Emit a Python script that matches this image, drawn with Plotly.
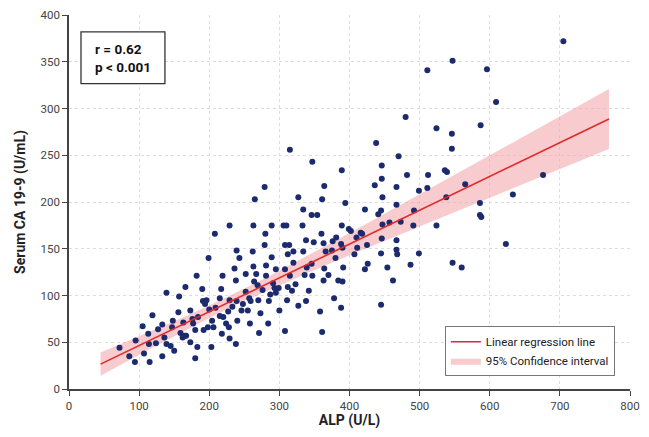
import plotly.graph_objects as go

# ALP (U/L) and Serum CA 19-9 (U/mL) values
alp = [
    72, 86, 94, 95, 105, 107, 113, 115, 119, 114, 124, 127, 133, 133, 136, 139, 139, 145, 148, 150,
    147, 156, 157, 159, 162, 165, 163, 166, 167, 173, 173, 176, 177, 180, 182, 180, 183, 184, 190, 191,
    194, 196, 199, 198, 192, 200, 203, 204, 208, 206, 209, 215, 215, 218, 219, 217, 220, 224, 227, 229,
    229, 228, 229, 233, 236, 238, 238, 239, 240, 239, 243, 246, 248, 252, 252, 255, 257, 258, 259, 263,
    262, 263, 264, 267, 269, 270, 271, 273, 276, 279, 280, 281, 281, 284, 285, 287, 289, 289, 291, 293,
    295, 295, 299, 300, 306, 310, 308, 308, 308, 312, 312, 314, 311, 315, 318, 320, 320, 323, 327, 333,
    334, 336, 338, 338, 342, 346, 346, 347, 358, 361, 360, 363, 363, 364, 366, 370,
    315, 347, 279, 265, 327, 334, 361, 364, 354,
    705, 547, 511, 596, 609, 480, 524, 546, 587, 546, 438, 470, 446, 389, 394, 422, 436, 446, 467, 482,
    512, 511, 499, 536, 539, 565, 538, 447, 467, 441, 445, 492, 586, 586, 588, 633, 676,
    623, 547, 560, 524, 491, 473, 457, 447, 446, 467, 445, 468, 499, 487, 454, 462, 426, 422, 425, 411,
    407, 416, 418, 410, 399, 402, 389, 388, 390, 380, 391, 384, 390, 378, 388, 445, 376, 381,
    349, 375, 339, 467,
]
ca199 = [
    44, 35, 29, 52, 67, 38, 59, 29, 79, 48, 49, 64, 69, 35, 55, 103, 48, 46, 73, 41,
    66, 82, 99, 60, 55, 57, 71, 109, 57, 50, 84, 75, 70, 33, 121, 63, 45, 77, 107, 94,
    91, 95, 140, 66, 63, 85, 45, 73, 166, 66, 87, 78, 97, 59, 121, 107, 77, 70, 83, 175,
    54, 66, 95, 88, 129, 48, 116, 148, 73, 94, 140, 84, 91, 123, 104, 84, 97, 70, 94, 175,
    147, 131, 115, 123, 111, 95, 60, 81, 106, 154, 166, 132, 121, 70, 94, 101, 175, 141, 113, 108,
    128, 103, 108, 84, 175, 175, 128, 62, 154, 144, 109, 154, 95, 121, 105, 147, 135, 112, 89, 175,
    147, 122, 94, 159, 105, 186, 134, 121, 83, 61, 166, 156, 116, 129, 147, 122,
    256, 243, 216, 203, 205, 192, 203, 217, 186,
    372, 351, 341, 342, 307, 291, 279, 273, 282, 257, 263, 249, 239, 234, 199, 192, 218, 225, 216, 229,
    229, 215, 212, 234, 232, 219, 205, 205, 197, 187, 191, 191, 199, 186, 184, 208, 229,
    155, 135, 130, 175, 175, 179, 178, 176, 161, 159, 145, 144, 145, 133, 130, 116, 134, 128, 154, 151,
    144, 167, 166, 162, 171, 169, 175, 155, 151, 140, 130, 116, 115, 97, 87, 90, 158, 162,
    157, 148, 130, 149,
]

# Regression line and 95% confidence band
fit_x = [45, 770]
fit_y = [26.6, 288.8]
ci_x = [45, 100, 150, 200, 250, 300, 350, 400, 450, 500, 550, 600, 650, 700, 770]
ci_lower = [14.2, 36.7, 56.7, 76.0, 94.2, 111.1, 127.3, 143.1, 158.7, 174.2, 189.6, 204.8, 220.2, 235.4, 256.8]
ci_upper = [39.0, 56.3, 72.5, 89.4, 107.4, 126.5, 146.5, 166.9, 187.5, 208.2, 229.0, 249.8, 270.6, 291.6, 320.8]

x_ticks = [0, 100, 200, 300, 400, 500, 600, 700, 800]
y_ticks = [0, 50, 100, 150, 200, 250, 300, 350, 400]

FONT = "Roboto, Liberation Sans, Arial, sans-serif"

fig = go.Figure()

fig.add_trace(go.Scatter(
    x=ci_x + ci_x[::-1], y=ci_upper + ci_lower[::-1],
    fill="toself", fillcolor="rgba(242,160,166,0.55)",
    line=dict(width=0, color="rgba(0,0,0,0)"),
    mode="lines", hoverinfo="skip",
    name="95% Confidence interval", legendrank=2,
))
fig.add_trace(go.Scatter(
    x=alp, y=ca199, mode="markers",
    marker=dict(size=6, color="#1c2a6e"),
    showlegend=False,
))
fig.add_trace(go.Scatter(
    x=fit_x, y=fit_y, mode="lines",
    line=dict(color="#e02a2a", width=1.6),
    name="Linear regression line", legendrank=1,
))

# statistics box
fig.add_shape(
    type="rect", xref="paper", yref="paper",
    x0=0.0214, x1=0.171, y0=0.8165, y1=0.955,
    line=dict(color="#333", width=1.3), fillcolor="white", layer="above",
)
fig.add_annotation(
    xref="paper", yref="paper", x=0.043, y=0.885, xanchor="left", yanchor="middle",
    text="<b>r = 0.62</b><br><b>p < 0.001</b>", align="left",
    showarrow=False, font=dict(family=FONT, size=13.5, color="#111"),
)

fig.update_layout(
    width=633, height=421,
    margin=dict(l=61, r=11, t=7, b=40),
    paper_bgcolor="white", plot_bgcolor="white",
    font=dict(family=FONT, size=11.5, color="#444"),
    legend=dict(
        x=0.67, y=0.034, xanchor="left", yanchor="bottom",
        bordercolor="#777", borderwidth=1, bgcolor="white",
        font=dict(family=FONT, size=11.5, color="#222"),
        traceorder="normal", itemwidth=30, tracegroupgap=0,
    ),
    xaxis=dict(
        range=[0, 800], tickvals=x_ticks, ticktext=[str(v) for v in x_ticks],
        showgrid=True, gridcolor="#dddddd", griddash="dot", gridwidth=1,
        showline=True, linecolor="#444", linewidth=1.5, automargin=False,
        ticks="outside", ticklen=5, tickcolor="#444", zeroline=False,
        ticklabeloverflow="allow",
        title=dict(text="<b>ALP (U/L)</b>", font=dict(family=FONT, size=14, color="#222"), standoff=8),
    ),
    yaxis=dict(
        range=[0, 400], tickvals=y_ticks, ticktext=[str(v) for v in y_ticks],
        showgrid=True, gridcolor="#dddddd", griddash="dot", gridwidth=1,
        showline=True, linecolor="#444", linewidth=1.5, automargin=False,
        ticks="outside", ticklen=5, tickcolor="#444", zeroline=False,
        ticklabeloverflow="allow",
        title=dict(text="<b>Serum CA 19-9 (U/mL)</b>", font=dict(family=FONT, size=14, color="#222"), standoff=12),
    ),
)

fig.write_html("out.html")
